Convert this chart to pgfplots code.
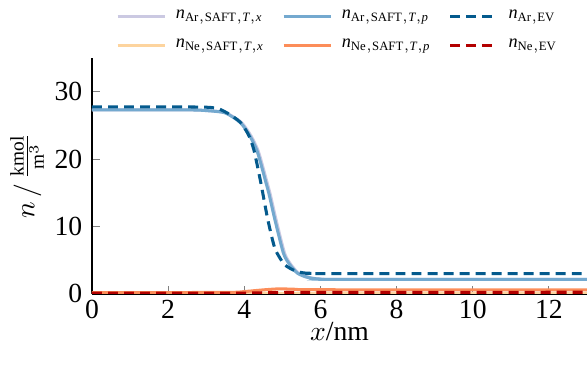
\documentclass[border=0pt]{standalone}
\usepackage{fontspec}
\setmainfont{Liberation Serif}
\setmathrm{Liberation Serif}
\usepackage{pgfplots}
\pgfplotsset{compat=1.18}

\definecolor{arTx}{HTML}{CBC9E2}
\definecolor{arTp}{HTML}{74A9CF}
\definecolor{arEV}{HTML}{045A8D}
\definecolor{neTx}{HTML}{FDD49E}
\definecolor{neTp}{HTML}{FC8D59}
\definecolor{neEV}{HTML}{B30000}

\begin{document}
\begin{tikzpicture}
\begin{axis}[
    scale only axis,
    width=179.2pt, height=85.4pt,
    xmin=0, xmax=13, ymin=0, ymax=35,
    axis x line=bottom, axis y line=left,
    axis line style={-, line width=0.5pt},
    xtick={0,2,4,6,8,10,12},
    ytick={0,10,20,30},
    tick style={gray, line width=0.4pt},
    major tick length=3pt,
    tick align=inside,
    /pgf/number format/assume math mode=true,
    tick label style={font=\normalsize},
    xticklabel style={inner sep=0pt, yshift=-2pt},
    xlabel={$x$/nm},
    ylabel={$n\,/\,\frac{\mathrm{kmol}}{\mathrm{m}^3}$},
    xlabel style={inner sep=0pt, yshift=-1.1pt},
    ylabel style={yshift=-3pt},
    legend style={at={(0.5,1.0)}, anchor=south, yshift=-2pt,
                  draw=none, fill=none,
                  font=\fontsize{6.6}{8}\selectfont, legend columns=3,
                  row sep=2pt,
                  /tikz/every odd column/.append style={column sep=1.5pt},
                  /tikz/every even column/.append style={column sep=4.5pt}},
    legend cell align={left},
    legend image code/.code={\draw[#1] (0pt,0pt) -- (17pt,0pt);},
    every axis plot/.append style={line width=1.1pt},
]
\addplot[arTx, smooth, tension=0.4] coordinates {
    (0,27.3)(2.5,27.3)(3.0,27.2)(3.5,26.9)(3.93,25.4)(4.18,23.4)(4.36,21.3)
    (4.48,19.0)(4.58,16.9)(4.68,14.8)(4.83,11.1)(5.06,6.0)(5.23,4.3)(5.42,3.1)
    (5.63,2.55)(5.83,2.3)(6.03,2.2)(6.5,2.15)(13,2.15)
};
\addlegendentry{$\mathit{n}_{\mathrm{Ar,SAFT,}\mathit{T}\mathrm{,}\mathit{x}}$}

\addplot[arTp, smooth, tension=0.4] coordinates {
    (0,27.3)(2.5,27.3)(3.0,27.2)(3.5,26.85)(3.9,25.4)(4.15,23.4)(4.33,21.3)
    (4.45,19.0)(4.55,16.9)(4.65,14.8)(4.8,11.1)(5.03,6.0)(5.2,4.3)(5.39,3.1)
    (5.6,2.55)(5.8,2.3)(6.0,2.2)(6.5,2.15)(13,2.15)
};
\addlegendentry{$\mathit{n}_{\mathrm{Ar,SAFT,}\mathit{T}\mathrm{,}\mathit{p}}$}

\addplot[arEV, dash pattern=on 3.6pt off 2.2pt, smooth, tension=0.4] coordinates {
    (0,27.75)(3.0,27.7)(3.5,27.0)(3.89,25.5)(4.11,23.6)(4.25,21.4)(4.42,16.9)
    (4.6,11.5)(4.72,8.5)(4.82,6.5)(5.03,4.5)(5.2,3.8)(5.39,3.3)(5.6,3.1)
    (5.82,3.05)(6,3.0)(13,3.0)
};
\addlegendentry{$\mathit{n}_{\mathrm{Ar,EV}}$}

\addplot[neTx] coordinates {
    (0,0.05)(4,0.06)(5,0.08)(13,0.08)
};
\addlegendentry{$\mathit{n}_{\mathrm{Ne,SAFT,}\mathit{T}\mathrm{,}\mathit{x}}$}

\addplot[neTp, smooth, tension=0.4] coordinates {
    (0,0.2)(3.5,0.22)(4.0,0.35)(4.5,0.6)(4.9,0.75)(5.3,0.7)(6,0.62)(13,0.6)
};
\addlegendentry{$\mathit{n}_{\mathrm{Ne,SAFT,}\mathit{T}\mathrm{,}\mathit{p}}$}

\addplot[neEV, dash pattern=on 3.6pt off 2.2pt] coordinates {
    (0,0.12)(4,0.13)(5,0.22)(13,0.25)
};
\addlegendentry{$\mathit{n}_{\mathrm{Ne,EV}}$}
\end{axis}
\pgfresetboundingbox
\path ([shift={(-33.3pt,-27.9pt)}]current axis.south west)
      rectangle ([shift={(0pt,21pt)}]current axis.north east);
\end{tikzpicture}
\end{document}
